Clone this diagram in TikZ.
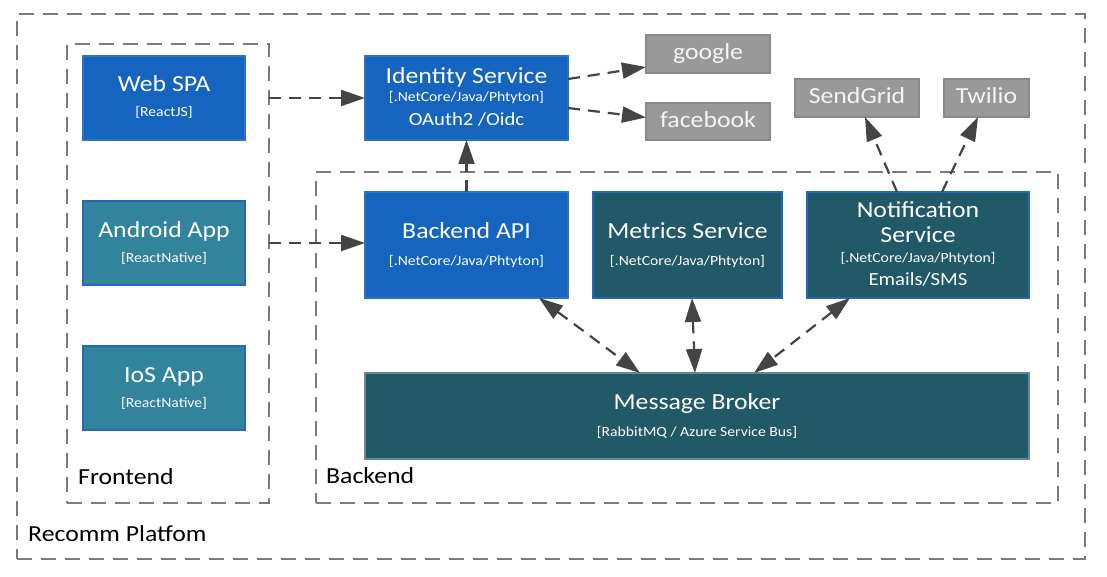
\documentclass[tikz,border=0pt]{standalone}
\usepackage{fontspec}
\setmainfont{Carlito}[FakeStretch=1.12]
\usetikzlibrary{arrows.meta,calc}
\definecolor{webblue}{HTML}{1565C0}
\definecolor{webborder}{HTML}{2A74C6}
\definecolor{tealfill}{HTML}{31849B}
\definecolor{tealborder}{HTML}{2468B4}
\definecolor{darkteal}{HTML}{215968}
\definecolor{darkborder}{HTML}{2468B4}
\definecolor{grayfill}{HTML}{999999}
\definecolor{grayborder}{HTML}{8A8A8A}
\definecolor{conncol}{HTML}{444444}
\definecolor{framecol}{HTML}{7A7A7A}
\definecolor{graytext}{HTML}{F4F4F4}
\begin{document}
\begin{tikzpicture}[x=1pt,y=-1pt,
  boxbase/.style={rectangle, inner sep=0pt, outer sep=0pt, anchor=north west, line width=1.2pt},
  bluebox/.style={boxbase, fill=webblue, draw=webborder},
  tealbox/.style={boxbase, fill=tealfill, draw=tealborder},
  darkbox/.style={boxbase, fill=darkteal, draw=darkborder},
  brokerbox/.style={boxbase, fill=darkteal, draw=darkteal!70!white},
  graybox/.style={boxbase, fill=grayfill, draw=grayborder},
  frame/.style={rectangle, inner sep=0pt, outer sep=0pt, anchor=north west, draw=framecol, line width=1.5pt, dash pattern=on 15pt off 9pt},
  ttl/.style={anchor=base, inner sep=0pt, text=white, font=\fontsize{23}{27}\selectfont},
  sub/.style={anchor=base, inner sep=0pt, text=white, font=\fontsize{14}{16}\selectfont},
  mid/.style={anchor=base, inner sep=0pt, text=white, font=\fontsize{18.5}{22}\selectfont},
  gtxt/.style={anchor=base, inner sep=0pt, text=graytext, font=\fontsize{23}{27}\selectfont},
  lbl/.style={anchor=base west, inner sep=0pt, text=black, font=\fontsize{23}{27}\selectfont},
  conn/.style={draw=conncol, line width=2.2pt, dash pattern=on 12pt off 8pt, -{Triangle[length=24pt,width=16pt]}},
  bconn/.style={draw=conncol, line width=2.2pt, dash pattern=on 12pt off 8pt, {Triangle[length=24pt,width=16pt]}-{Triangle[length=24pt,width=16pt]}}
]
\useasboundingbox (0,0) rectangle (1107,577);

% frames
\node[frame, minimum width=1068pt, minimum height=545pt] (outer) at (17,14) {};
\node[frame, minimum width=202pt, minimum height=459pt] (fe) at (67,44) {};
\node[frame, minimum width=742pt, minimum height=331pt] (be) at (316,172) {};
\node[lbl] (outerL) at (28,541) {Recomm Platfom};
\node[lbl] (feL) at (78,484) {Frontend};
\node[lbl] (beL) at (326,483) {Backend};

% boxes
\node[bluebox, minimum width=162pt, minimum height=84pt] (web) at (83,56) {};
\node[tealbox, minimum width=162pt, minimum height=84pt] (android) at (83,201) {};
\node[tealbox, minimum width=162pt, minimum height=84pt] (ios) at (83,346) {};
\node[bluebox, minimum width=203pt, minimum height=84pt] (ident) at (365,56) {};
\node[bluebox, minimum width=203pt, minimum height=106pt] (bapi) at (365,192) {};
\node[darkbox, minimum width=189pt, minimum height=106pt] (metrics) at (593,192) {};
\node[darkbox, minimum width=222pt, minimum height=106pt] (notif) at (807,192) {};
\node[brokerbox, minimum width=664pt, minimum height=86pt] (broker) at (365,373) {};
\node[graybox, minimum width=124pt, minimum height=38pt] (google) at (646,35) {};
\node[graybox, minimum width=124pt, minimum height=37pt] (facebook) at (646,103) {};
\node[graybox, minimum width=124pt, minimum height=38pt] (sendgrid) at (795,79) {};
\node[graybox, minimum width=85pt, minimum height=38pt] (twilio) at (944,79) {};

% texts
\node[ttl] (webT) at (164,92) {Web SPA};
\node[sub] (webS) at (164,117) {[ReactJS]};
\node[ttl] (androidT) at (164,237) {Android App};
\node[sub] (androidS) at (164,262) {[ReactNative]};
\node[ttl] (iosT) at (164,382) {IoS App};
\node[sub] (iosS) at (164,407) {[ReactNative]};
\node[ttl] (identT) at (466.5,84) {Identity Service};
\node[sub] (identS) at (466.5,102) {[.NetCore/Java/Phtyton]};
\node[mid] (identM) at (466.5,126) {OAuth2 /Oidc};
\node[ttl] (bapiT) at (466.5,238) {Backend API};
\node[sub] (bapiS) at (466.5,265) {[.NetCore/Java/Phtyton]};
\node[ttl] (metricsT) at (687.5,238) {Metrics Service};
\node[sub] (metricsS) at (687.5,265) {[.NetCore/Java/Phtyton]};
\node[ttl] (notifT) at (918,218) {Notification};
\node[ttl] (notifT2) at (918,243) {Service};
\node[sub] (notifS) at (918,262) {[.NetCore/Java/Phtyton]};
\node[mid] (notifM) at (918,285) {Emails/SMS};
\node[ttl] (brokerT) at (697,409) {Message Broker};
\node[sub] (brokerS) at (697,436) {[RabbitMQ / Azure Service Bus]};
\node[gtxt] (googleT) at (708,60) {google};
\node[gtxt] (facebookT) at (708,128) {facebook};
\node[gtxt] (sendgridT) at (857,104) {SendGrid};
\node[gtxt] (twilioT) at (986.5,104) {Twilio};

% connectors
\draw[conn] (fe.east |- web.east) -- (ident.west);
\draw[conn] (fe.east |- android.east) -- (bapi.west |- android.east);
\draw[conn] (bapi.north) -- (ident.south);
\draw[conn] ($(ident.east)+(0,-19)$) -- ($(google.west)+(0,13)$);
\draw[conn] ($(ident.east)+(0,10)$) -- ($(facebook.west)+(0,-4)$);
\draw[conn] ($(notif.north west)+(90,0)$) -- ($(sendgrid.south west)+(70,0)$);
\draw[conn] ($(notif.north west)+(135,0)$) -- ($(twilio.south west)+(34,0)$);
\draw[bconn] ($(bapi.south west)+(174,0)$) -- ($(broker.north west)+(275,0)$);
\draw[bconn] ($(metrics.south west)+(99,0)$) -- ($(broker.north west)+(330,0)$);
\draw[bconn] ($(notif.south west)+(43,0)$) -- ($(broker.north west)+(389,0)$);
\end{tikzpicture}
\end{document}
